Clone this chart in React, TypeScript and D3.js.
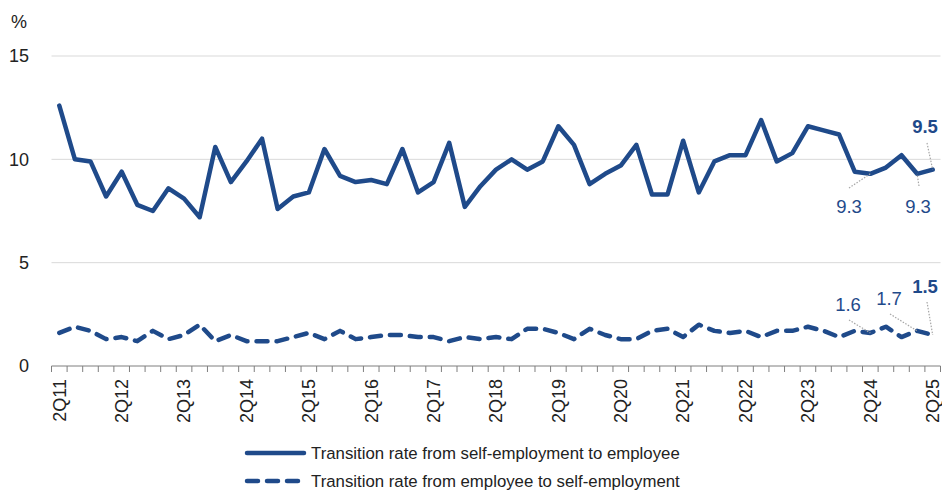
import React, { useRef, useEffect } from 'react';
import * as d3 from 'd3';

const quarters = [
  '2Q11', '3Q11', '4Q11', '1Q12', '2Q12', '3Q12', '4Q12', '1Q13', '2Q13', '3Q13', '4Q13', '1Q14',
  '2Q14', '3Q14', '4Q14', '1Q15', '2Q15', '3Q15', '4Q15', '1Q16', '2Q16', '3Q16', '4Q16', '1Q17',
  '2Q17', '3Q17', '4Q17', '1Q18', '2Q18', '3Q18', '4Q18', '1Q19', '2Q19', '3Q19', '4Q19', '1Q20',
  '2Q20', '3Q20', '4Q20', '1Q21', '2Q21', '3Q21', '4Q21', '1Q22', '2Q22', '3Q22', '4Q22', '1Q23',
  '2Q23', '3Q23', '4Q23', '1Q24', '2Q24', '3Q24', '4Q24', '1Q25', '2Q25',
];

// transition rate from self-employment to employee (%)
const selfToEmployee = [
  12.6, 10.0, 9.9, 8.2, 9.4, 7.8, 7.5, 8.6, 8.1, 7.2, 10.6, 8.9,
  9.9, 11.0, 7.6, 8.2, 8.4, 10.5, 9.2, 8.9, 9.0, 8.8, 10.5, 8.4,
  8.9, 10.8, 7.7, 8.7, 9.5, 10.0, 9.5, 9.9, 11.6, 10.7, 8.8, 9.3,
  9.7, 10.7, 8.3, 8.3, 10.9, 8.4, 9.9, 10.2, 10.2, 11.9, 9.9, 10.3,
  11.6, 11.4, 11.2, 9.4, 9.3, 9.6, 10.2, 9.3, 9.5,
];

// transition rate from employee to self-employment (%)
const employeeToSelf = [
  1.6, 1.9, 1.7, 1.3, 1.4, 1.2, 1.7, 1.3, 1.5, 2.0, 1.2, 1.5,
  1.2, 1.2, 1.2, 1.4, 1.6, 1.3, 1.7, 1.3, 1.4, 1.5, 1.5, 1.4,
  1.4, 1.2, 1.4, 1.3, 1.4, 1.3, 1.8, 1.8, 1.6, 1.3, 1.8, 1.5,
  1.3, 1.3, 1.7, 1.8, 1.4, 2.0, 1.7, 1.6, 1.7, 1.4, 1.7, 1.7,
  1.9, 1.7, 1.4, 1.7, 1.6, 1.9, 1.4, 1.7, 1.5,
];

const yTicks = [0, 5, 10, 15];

const seriesNames = [
  'Transition rate from self-employment to employee',
  'Transition rate from employee to self-employment',
];

// data labels: [index, text, bold]
const selfLabels: [number, string, boolean][] = [
  [52, '9.3', false],
  [55, '9.3', false],
  [56, '9.5', true],
];
const empLabels: [number, string, boolean][] = [
  [52, '1.6', false],
  [55, '1.7', false],
  [56, '1.5', true],
];

const WIDTH = 942;
const HEIGHT = 490;
const COLOR = '#1f4a8a';
const FONT = '"Liberation Sans", Arial, sans-serif';

const App: React.FC = () => {
  const ref = useRef<SVGSVGElement | null>(null);

  useEffect(() => {
    if (!ref.current) return;
    const svg = d3.select(ref.current);
    svg.selectAll('*').remove();

    const margin = { top: 56, right: 1.5, bottom: 124, left: 51.5 };

    const x = d3.scaleBand<string>()
      .domain(quarters)
      .range([margin.left, WIDTH - margin.right])
      .padding(0);

    const y = d3.scaleLinear()
      .domain([0, 15])
      .range([HEIGHT - margin.bottom, margin.top]);

    const cx = (i: number) => (x(quarters[i]) as number) + x.bandwidth() / 2;

    // grid lines
    svg.append('g')
      .selectAll('line')
      .data(yTicks.filter(t => t > 0))
      .enter()
      .append('line')
      .attr('x1', margin.left)
      .attr('x2', WIDTH - margin.right)
      .attr('y1', d => y(d))
      .attr('y2', d => y(d))
      .attr('stroke', '#d9d9d9')
      .attr('stroke-width', 1);

    // y labels
    svg.append('g')
      .selectAll('text')
      .data(yTicks)
      .enter()
      .append('text')
      .attr('x', 29)
      .attr('y', d => y(d))
      .attr('dy', '0.35em')
      .attr('text-anchor', 'end')
      .attr('font-family', FONT)
      .attr('font-size', 18)
      .attr('fill', '#222')
      .text(d => d);

    svg.append('text')
      .attr('x', 11)
      .attr('y', 22)
      .attr('dy', '0.35em')
      .attr('font-family', FONT)
      .attr('font-size', 18)
      .attr('fill', '#222')
      .text('%');

    // x axis
    const y0 = y(0);
    const axis = svg.append('g');
    axis.append('line')
      .attr('x1', margin.left)
      .attr('x2', WIDTH - margin.right)
      .attr('y1', y0)
      .attr('y2', y0)
      .attr('stroke', '#7f7f7f')
      .attr('stroke-width', 1);

    const boundaries = quarters.map(q => x(q) as number).concat([WIDTH - margin.right]);
    axis.selectAll('line.tick')
      .data(boundaries)
      .enter()
      .append('line')
      .attr('class', 'tick')
      .attr('x1', d => d)
      .attr('x2', d => d)
      .attr('y1', y0)
      .attr('y2', y0 + 6)
      .attr('stroke', '#7f7f7f')
      .attr('stroke-width', 1);

    axis.selectAll('text')
      .data(quarters.filter((_, i) => i % 4 === 0))
      .enter()
      .append('text')
      .attr('transform', d => `translate(${(x(d) as number) + x.bandwidth() / 2},${y0 + 13}) rotate(-90)`)
      .attr('text-anchor', 'end')
      .attr('dy', '0.35em')
      .attr('font-family', FONT)
      .attr('font-size', 18)
      .attr('fill', '#222')
      .text(d => d);

    // lines
    const line = d3.line<number>()
      .x((_, i) => cx(i))
      .y(d => y(d));

    svg.append('path')
      .datum(selfToEmployee)
      .attr('fill', 'none')
      .attr('stroke', COLOR)
      .attr('stroke-width', 4.5)
      .attr('stroke-linejoin', 'round')
      .attr('stroke-linecap', 'round')
      .attr('d', line);

    svg.append('path')
      .datum(employeeToSelf)
      .attr('fill', 'none')
      .attr('stroke', COLOR)
      .attr('stroke-width', 4.5)
      .attr('stroke-linejoin', 'round')
      .attr('stroke-linecap', 'round')
      .attr('stroke-dasharray', '11 9')
      .attr('d', line);

    // data labels with leader lines
    const drawLabel = (
      i: number, val: number, txt: string, bold: boolean,
      lx: number, ly: number, ex: number, ey: number,
    ) => {
      svg.append('line')
        .attr('x1', ex)
        .attr('y1', ey)
        .attr('x2', cx(i))
        .attr('y2', y(val))
        .attr('stroke', '#a6a6a6')
        .attr('stroke-width', 1.2)
        .attr('stroke-dasharray', '1.5 1.5');
      svg.append('text')
        .attr('x', lx)
        .attr('y', ly)
        .attr('dy', '0.35em')
        .attr('text-anchor', 'middle')
        .attr('font-family', FONT)
        .attr('font-size', 18.5)
        .attr('font-weight', bold ? 'bold' : 'normal')
        .attr('fill', COLOR)
        .text(txt);
    };

    const selfPos = [
      [849, 207, 849, 188],
      [918, 207, 919, 186],
      [925, 127, 927, 143],
    ];
    selfLabels.forEach(([i, t, b], k) => {
      const p = selfPos[k];
      drawLabel(i, selfToEmployee[i], t, b, p[0], p[1], p[2], p[3]);
    });

    const empPos = [
      [848, 305, 849, 320],
      [889, 299, 890, 314],
      [925, 287, 927, 302],
    ];
    empLabels.forEach(([i, t, b], k) => {
      const p = empPos[k];
      drawLabel(i, employeeToSelf[i], t, b, p[0], p[1], p[2], p[3]);
    });

    // legend
    const legend = svg.append('g');
    const legendY = [453, 481];
    seriesNames.forEach((name, k) => {
      legend.append('line')
        .attr('x1', 247)
        .attr('x2', 304)
        .attr('y1', legendY[k])
        .attr('y2', legendY[k])
        .attr('stroke', COLOR)
        .attr('stroke-width', 4.5)
        .attr('stroke-linecap', 'round')
        .attr('stroke-dasharray', k === 1 ? '11 9' : null);
      legend.append('text')
        .attr('x', 311)
        .attr('y', legendY[k])
        .attr('dy', '0.35em')
        .attr('font-family', FONT)
        .attr('font-size', 16.8)
        .attr('fill', '#222')
        .text(name);
    });
  }, []);

  return (
    <svg
      ref={ref}
      width={WIDTH}
      height={HEIGHT}
      style={{ position: 'absolute', left: 0, top: 0, background: '#fff' }}
    />
  );
};

export default App;
